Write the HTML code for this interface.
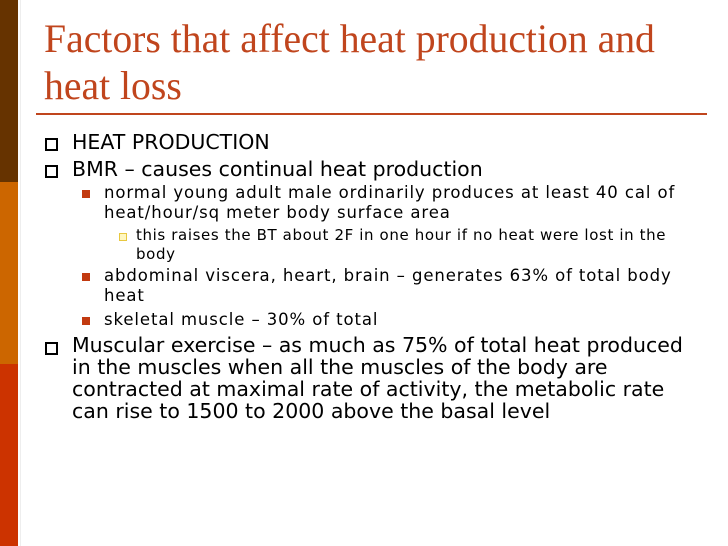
<!DOCTYPE html>
<html><head><meta charset="utf-8"><style>
body{margin:0;width:728px;height:546px;position:relative;background:#fff;overflow:hidden;font-family:"DejaVu Sans","Liberation Sans",sans-serif;}
.bar{position:absolute;left:0;width:18px}
.t{position:absolute;white-space:nowrap;color:#000}
.l1{font-size:20.5px;left:72px}
.l2{font-size:16.5px;left:104px;letter-spacing:0.9px}
.l3{font-size:15px;left:136px;letter-spacing:0.62px}
.b1{position:absolute;left:45px;width:9px;height:9px;border:2px solid #000}
.b2{position:absolute;left:82px;width:8px;height:8px;background:#c23a10}
.b3{position:absolute;left:119px;width:6px;height:6px;border:1.5px solid #e8c840;background:#fff7c0}
</style></head><body>
<div class="bar" style="top:0;height:182px;background:#663300"></div>
<div class="bar" style="top:182px;height:182px;background:#cc6600"></div>
<div class="bar" style="top:364px;height:182px;background:#cc3300"></div>
<div style="position:absolute;left:20px;top:0;width:1px;height:546px;background:#eee"></div>
<div style="position:absolute;left:44px;top:16px;font-family:'Liberation Serif',serif;font-size:39.7px;line-height:47px;color:#c0451d">Factors that affect heat production and<br>heat loss</div>
<div style="position:absolute;left:36px;top:113px;width:671px;height:2px;background:#c0451d"></div>

<div class="b1" style="top:138px"></div>
<div class="t l1" style="top:130px">HEAT PRODUCTION</div>
<div class="b1" style="top:165px"></div>
<div class="t l1" style="top:157px">BMR – causes continual heat production</div>
<div class="b2" style="top:190px"></div>
<div class="t l2" style="top:183px;line-height:20px">normal young adult male ordinarily produces at least 40 cal of<br>heat/hour/sq meter body surface area</div>
<div class="b3" style="top:233px"></div>
<div class="t l3" style="top:226px;line-height:19px">this raises the BT about 2F in one hour if no heat were lost in the<br>body</div>
<div class="b2" style="top:273px"></div>
<div class="t l2" style="top:266px;line-height:20px">abdominal viscera, heart, brain – generates 63% of total body<br>heat</div>
<div class="b2" style="top:317px"></div>
<div class="t l2" style="top:310px">skeletal muscle – 30% of total</div>
<div class="b1" style="top:342px"></div>
<div class="t l1" style="top:334px;line-height:22px">Muscular exercise – as much as 75% of total heat produced<br>in the muscles when all the muscles of the body are<br>contracted at maximal rate of activity, the metabolic rate<br>can rise to 1500 to 2000 above the basal level</div>
</body></html>
